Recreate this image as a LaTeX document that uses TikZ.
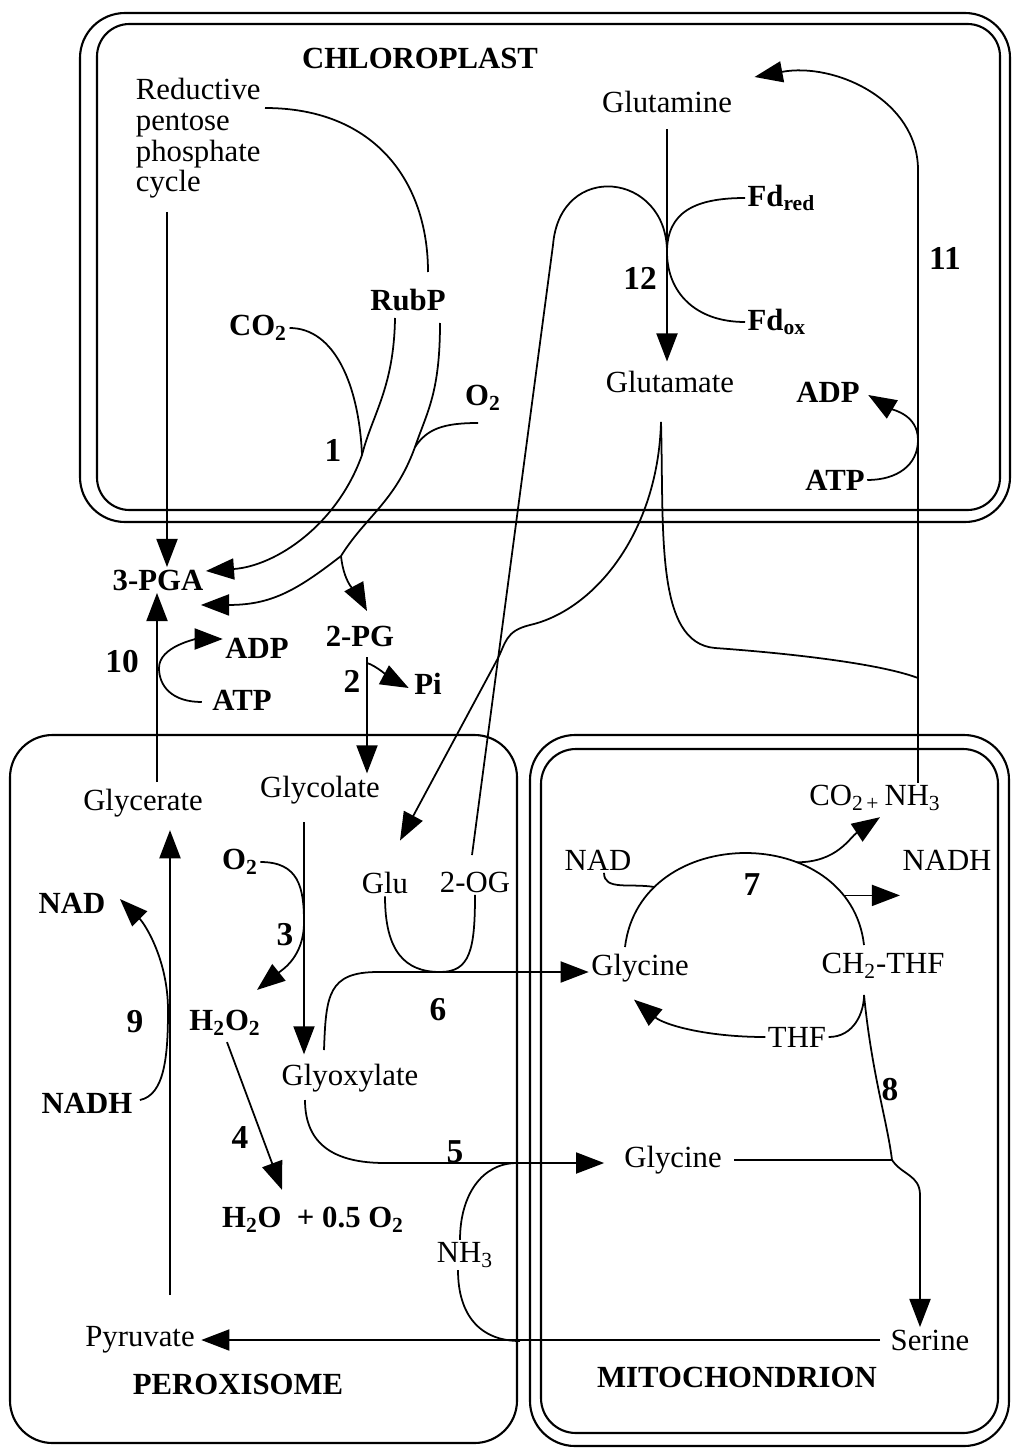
\documentclass[tikz,border=0pt]{standalone}
\usepackage{fontspec}
\setmainfont{Liberation Serif}
\usepackage{tikz}
\usetikzlibrary{arrows.meta}

\begin{document}
\begin{tikzpicture}[
    x=0.02cm, y=-0.02cm,
    every node/.style={font=\fontsize{17.5}{19}\selectfont, inner sep=1pt},
    bf/.style={font=\fontsize{17.5}{19}\selectfont\bfseries},
    num/.style={font=\fontsize{19}{21}\selectfont\bfseries},
    arr/.style={-{Triangle[length=16pt, width=12pt]}},
    box/.style={line width=1.2pt},
    line width=1pt,
  ]
    \useasboundingbox (0, 0) rectangle (1012, 1449);

    % 叶绿体（双层膜）
    \draw[box, rounded corners=0.9cm] (80, 13) rectangle (1010, 522);
    \draw[box, rounded corners=0.65cm] (97, 24) rectangle (1000, 510);
    % 过氧化物酶体
    \draw[box, rounded corners=0.85cm] (10, 735) rectangle (517, 1443);
    % 线粒体（双层膜）
    \draw[box, rounded corners=0.9cm] (530, 735) rectangle (1009, 1446);
    \draw[box, rounded corners=0.7cm] (541, 749) rectangle (998, 1433);

    % 叶绿体内的物质
    \node[bf] (chl) at (420, 58) {CHLOROPLAST};
    \node[align=left, anchor=north west, inner sep=0pt,
          font=\fontsize{17.5}{17.6}\selectfont] (rpp) at (135, 77)
      {Reductive\\pentose\\phosphate\\cycle};
    \node[bf] (rubp) at (408, 300) {RubP};
    \node[bf] (co2a) at (258, 328) {CO\textsubscript{2}};
    \node[bf] (o2a) at (483, 398) {O\textsubscript{2}};
    \node[num] (n1) at (333, 450) {1};
    \node (glutamine) at (667, 102) {Glutamine};
    \node (glutamate) at (670, 382) {Glutamate};
    \node[bf, anchor=west] (fdred) at (745, 198) {Fd\textsubscript{red}};
    \node[bf, anchor=west] (fdox) at (745, 322) {Fd\textsubscript{ox}};
    \node[num] (n12) at (640, 278) {12};
    \node[num] (n11) at (945, 258) {11};
    \node[bf] (adp1) at (828, 392) {ADP};
    \node[bf] (atp1) at (835, 480) {ATP};

    % 膜之间
    \node[bf] (pga3) at (158, 580) {3-PGA};
    \node[num] (n10) at (122, 662) {10};
    \node[bf] (adp2) at (257, 648) {ADP};
    \node[bf] (atp2) at (242, 700) {ATP};
    \node[bf] (pg2) at (360, 636) {2-PG};
    \node[num] (n2) at (352, 681) {2};
    \node[bf] (pi) at (428, 684) {Pi};

    % 过氧化物酶体内的物质
    \node (glycerate) at (143, 803) {Glycerate};
    \node (glycolate) at (320, 790) {Glycolate};
    \node[bf] (o2b) at (240, 862) {O\textsubscript{2}};
    \node[num] (n3) at (285, 935) {3};
    \node[bf] (h2o2) at (225, 1023) {H\textsubscript{2}O\textsubscript{2}};
    \node (glu) at (385, 883) {Glu};
    \node (og2) at (475, 882) {2-OG};
    \node[num] (n6) at (438, 1010) {6};
    \node (glyox) at (350, 1078) {Glyoxylate};
    \node[num] (n4) at (240, 1138) {4};
    \node[bf] (h2o) at (313, 1220) {H\textsubscript{2}O\ \ + 0.5 O\textsubscript{2}};
    \node[num] (n5) at (455, 1152) {5};
    \node (nh3a) at (465, 1255) {NH\textsubscript{3}};
    \node (pyruvate) at (140, 1340) {Pyruvate};
    \node[bf] (perox) at (238, 1384) {PEROXISOME};
    \node[bf] (nad9) at (72, 903) {NAD};
    \node[bf] (nadh9) at (87, 1103) {NADH};
    \node[num] (n9) at (135, 1022) {9};

    % 线粒体内的物质
    \node (co2nh3) at (875, 798) {CO\textsubscript{2\,+}\,NH\textsubscript{3}};
    \node (nad7) at (598, 860) {NAD};
    \node (nadh7) at (947, 860) {NADH};
    \node[num] (n7) at (752, 885) {7};
    \node (glycine1) at (640, 968) {Glycine};
    \node (ch2thf) at (883, 966) {CH\textsubscript{2}-THF};
    \node (thf) at (797, 1037) {THF};
    \node[num] (n8) at (890, 1090) {8};
    \node (glycine2) at (673, 1160) {Glycine};
    \node (serine) at (930, 1340) {Serine};
    \node[bf] (mito) at (737, 1377) {MITOCHONDRION};

    % 连接点
    \coordinate (rpptail) at (167, 212);
    \coordinate (rppout) at (265, 108);
    \coordinate (rubpin) at (428, 272);
    \coordinate (rubpl) at (395, 318);
    \coordinate (rubpr) at (440, 323);
    \coordinate (j1) at (362, 455);
    \coordinate (j2) at (415, 447);
    \coordinate (bp) at (341, 556);
    \coordinate (o2tail) at (478, 423);
    \coordinate (j12) at (667, 252);
    \coordinate (hump) at (553, 245);
    \coordinate (gs) at (661, 422);
    \coordinate (gl) at (530, 625);
    \coordinate (gl2) at (497, 660);
    \coordinate (gr) at (715, 648);
    \coordinate (j11b) at (918, 678);
    \coordinate (bend11) at (918, 170);
    \coordinate (j11) at (918, 440);
    \coordinate (glyup) at (157, 782);
    \coordinate (j10) at (159, 668);
    \coordinate (pgdown) at (367, 657);
    \coordinate (jpi) at (367, 663);
    \coordinate (glcdown) at (304, 822);
    \coordinate (j3) at (304, 922);
    \coordinate (g6) at (324, 1050);
    \coordinate (g6b) at (378, 972);
    \coordinate (j6) at (440, 972);
    \coordinate (g5) at (305, 1100);
    \coordinate (g5b) at (385, 1163);
    \coordinate (n5j) at (517, 1163);
    \coordinate (npy) at (520, 1341);
    \coordinate (pyup) at (170, 1295);
    \coordinate (j9) at (168, 1010);
    \coordinate (c7l) at (625, 947);
    \coordinate (c7r) at (864, 945);
    \coordinate (j8) at (864, 995);
    \coordinate (j8b) at (892, 1160);
    \coordinate (j8c) at (920, 1195);

    % 反应 1：RubP 的羧化与加氧
    \draw[arr] (rpptail) -- (rpptail |- pga3.north);
    \draw (rppout) .. controls +(110, 0) and +(0, -90) .. (rubpin);
    \draw (co2a.east) .. controls +(45, 0) and +(-3, -70) .. (j1);
    \draw[arr] (rubpl) .. controls +(-1, 70) and +(10, -40) .. (j1)
      .. controls +(-25, 70) and +(70, -5) .. ([shift={(0, -9)}]pga3.east);
    \draw (o2tail) .. controls +(-35, 0) and +(12, -18) .. (j2);
    \draw (rubpr) .. controls +(0, 70) and +(12, -35) .. (j2)
      .. controls +(-20, 55) and +(25, -40) .. (bp);
    \draw[arr] (bp) .. controls +(-45, 35) and +(70, 0) .. ([shift={(-5, 12)}]pga3.south east);
    \draw[arr] (bp) .. controls +(3, 30) and +(-8, -15) .. ([shift={(7, -12)}]pg2.north);

    % 反应 12：谷氨酸合酶
    \draw[arr, shorten >=4pt] ([shift={(0, 14)}]glutamine.south) -- (glutamine.south |- glutamate.north);
    \draw (fdred.west) .. controls +(-50, 0) and +(0, -40) .. (j12)
      .. controls +(0, 40) and +(-50, 0) .. (fdox.west);
    \draw ([shift={(-3, -14)}]og2.north) -- (hump) .. controls +(7, -85) and +(0, -80) .. (j12);

    % 谷氨酸的两条分支
    \draw[arr] (gs) .. controls +(-3, 110) and +(65, -15) .. (gl)
      .. controls +(-25, 6) and +(9, -17) .. (gl2) -- ([shift={(15, -29)}]glu.north);
    \draw (gs) .. controls +(3, 110) and +(-60, -5) .. (gr)
      .. controls +(70, 5) and +(-40, -15) .. (j11b);

    % 反应 11：谷氨酰胺合成酶
    \draw[arr] (co2nh3.north -| bend11) -- (bend11)
      .. controls +(0, -70) and +(80, -15) .. ([shift={(20, -25)}]glutamine.east);
    \draw[arr] (atp1.east) .. controls +(30, 0) and +(0, 25) .. (j11)
      .. controls +(0, -25) and +(25, 15) .. ([shift={(6, 3)}]adp1.east);

    % 反应 10 与 2
    \draw[arr] (glyup) -- (glyup |- pga3.south);
    \draw[arr] ([shift={(-8, 2)}]atp2.west) .. controls +(-30, 0) and +(0, 18) .. (j10)
      .. controls +(0, -22) and +(-25, 0) .. ([shift={(0, -9)}]adp2.west);
    \draw[arr] (pgdown) -- (pgdown |- glycolate.north);
    \draw[arr] (jpi) .. controls +(8, 2) and +(-15, -8) .. ([shift={(-3, 4)}]pi.west);

    % 反应 3、4、5、6、9
    \draw[arr, shorten >=4pt] (glcdown) -- (glcdown |- glyox.north);
    \draw[arr] (o2b.east) .. controls +(38, 0) and +(0, -35) .. (j3)
      .. controls +(0, 35) and +(25, -20) .. ([shift={(32, -18)}]h2o2.north);
    \draw[arr] ([shift={(2, 4)}]h2o2.south) -- ([shift={(-31, -15)}]h2o.north);
    \draw (glu.south) .. controls +(0, 55) and +(-35, 0) .. (j6)
      .. controls +(30, 0) and +(0, 55) .. (og2.south);
    \draw[arr] (g6) .. controls +(2, -55) and +(-50, 0) .. (g6b) -- (g6b -| glycine1.west);
    \draw[arr, shorten >=10pt] (g5) .. controls +(0, 45) and +(-50, 0) .. (g5b) -- (g5b -| glycine2.west);
    \draw ([shift={(-5, 0)}]nh3a.north) .. controls +(0, -45) and +(-35, 0) .. (n5j);
    \draw ([shift={(-7, 0)}]nh3a.south) .. controls +(0, 45) and +(-40, 0) .. (npy);
    \draw[arr] ([shift={(-8, 0)}]serine.west) -- ([shift={(4, 0)}]pyruvate.east);
    \draw[arr, shorten >=6pt] (pyup) -- (pyup |- glycerate.south);
    \draw[arr] ([shift={(5, -3)}]nadh9.east) .. controls +(25, -5) and +(0, 45) .. (j9)
      .. controls +(0, -50) and +(25, 25) .. ([shift={(12, -4)}]nad9.east);

    % 反应 7 与 8
    \draw (c7l) .. controls (640, 822) and (850, 822) .. (c7r)
      coordinate[pos=0.2] (j7a) coordinate[pos=0.66] (j7b) coordinate[pos=0.84] (j7c);
    \draw ([shift={(6, 0)}]nad7.south) .. controls +(0, 18) and +(-25, -4) .. (j7a);
    \draw[arr] (j7b) .. controls +(40, 0) and +(-30, 20) .. ([shift={(5, 4)}]co2nh3.south);
    \draw[arr] (j7c) -- (j7c -| nadh7.west);
    \draw (thf.east) .. controls +(25, 0) and +(0, 18) .. (j8);
    \draw[arr] (thf.west) .. controls +(-60, 0) and +(30, 25) .. ([shift={(-6, 15)}]glycine1.south);
    \draw[arr] (j8) .. controls +(8, 80) and +(-5, -40) .. (j8b)
      .. controls +(10, 15) and +(0, -20) .. (j8c) -- (j8c |- serine.north);
    \draw ([shift={(10, 0)}]glycine2.east) -- (j8b);
\end{tikzpicture}
\end{document}
